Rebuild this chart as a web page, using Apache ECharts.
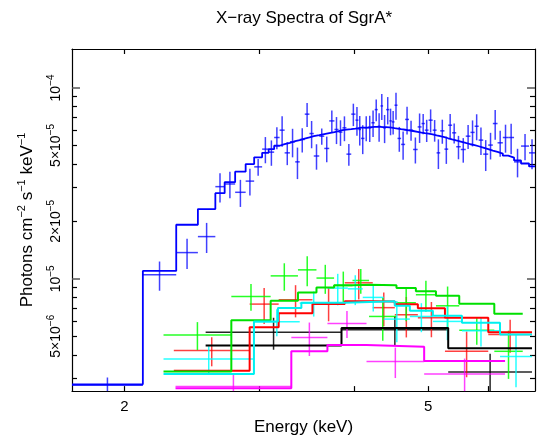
<!DOCTYPE html>
<html><head><meta charset="utf-8">
<script src="https://cdn.jsdelivr.net/npm/echarts@6/dist/echarts.min.js"></script>
<style>html,body{margin:0;padding:0;background:#fff}#c{width:540px;height:441px}</style>
</head><body><div id="c"></div>
<script>
// ---- axis ranges and ticks (energy in keV, flux in photons cm^-2 s^-1 keV^-1) ----
const FLUX_UNIT = 1e-5;
const xRange = [1.707, 6.904];
const yRange = [2.58e-6, 1.6e-4];
const xTickValues = [2, 3, 4, 5, 6];
const xLabelValues = [2, 5];
const yMajorTicks = [1e-5, 1e-4];
const yMinorTicks = [3e-6, 4e-6, 5e-6, 6e-6, 7e-6, 8e-6, 9e-6, 2e-5, 3e-5, 4e-5, 5e-5, 6e-5, 7e-5, 8e-5, 9e-5];
const yLabelValues = [5e-6, 1e-5, 2e-5, 5e-5, 1e-4];
const yLabelMantissa = ['5×10', '10', '2×10', '5×10', '10'];
const yLabelExponent = ['−6', '−5', '−5', '−5', '−4'];

// ---- blue (fluxes in units of 1e-5) ----
const blueEdges = [1.707, 2.114, 2.338, 2.496, 2.631, 2.706, 2.793, 2.883, 2.958, 3.030, 3.090, 3.142, 3.194, 3.243, 3.295, 3.348, 3.394, 3.446, 3.495, 3.541, 3.600, 3.655, 3.710, 3.769, 3.816, 3.861, 3.908, 3.965, 4.016, 4.052, 4.084, 4.126, 4.171, 4.214, 4.256, 4.295, 4.331, 4.365, 4.405, 4.448, 4.481, 4.518, 4.559, 4.609, 4.665, 4.720, 4.779, 4.845, 4.902, 4.951, 5.007, 5.070, 5.130, 5.186, 5.253, 5.313, 5.376, 5.443, 5.518, 5.602, 5.682, 5.754, 5.825, 5.905, 5.995, 6.079, 6.166, 6.265, 6.368, 6.481, 6.619, 6.781, 6.904];
const blueFlux = [0.277, 1.049, 1.372, 1.664, 3.04, 3.14, 2.84, 3.25, 3.86, 4.78, 4.61, 5.50, 6.01, 4.57, 5.22, 4.10, 5.37, 7.29, 5.77, 4.40, 5.59, 4.82, 6.72, 6.06, 5.87, 6.18, 4.50, 7.29, 6.78, 6.06, 5.44, 6.18, 6.18, 6.57, 7.70, 6.30, 8.05, 6.18, 7.70, 6.72, 6.64, 8.12, 5.44, 5.06, 6.84, 6.01, 4.76, 6.25, 6.51, 6.01, 6.78, 6.01, 4.57, 5.96, 4.78, 6.38, 5.82, 4.92, 4.76, 5.59, 5.85, 6.30, 5.33, 4.50, 5.02, 6.51, 5.16, 5.50, 5.50, 4.10, 4.96, 4.57];
const blueErr = [0.027, 0.183, 0.248, 0.299, 0.53, 0.50, 0.46, 0.52, 0.39, 0.75, 0.70, 0.72, 1.09, 0.63, 0.89, 0.77, 0.78, 1.05, 0.94, 0.67, 0.55, 0.74, 0.90, 0.98, 0.90, 0.92, 0.59, 0.98, 1.17, 1.07, 0.94, 0.93, 0.97, 1.04, 1.01, 1.07, 1.25, 1.04, 1.26, 1.07, 0.94, 1.31, 0.81, 0.85, 1.13, 0.72, 0.74, 1.10, 0.79, 0.80, 0.94, 0.78, 0.81, 0.86, 0.78, 0.93, 0.70, 0.69, 0.70, 0.80, 0.91, 0.98, 0.87, 0.83, 0.80, 1.16, 0.80, 0.92, 1.00, 0.70, 0.78, 0.82];
const blueModel = [0.28, 1.10, 1.92, 2.32, 2.81, 3.21, 3.64, 3.99, 4.33, 4.57, 4.78, 4.98, 5.08, 5.16, 5.26, 5.33, 5.43, 5.51, 5.59, 5.66, 5.73, 5.80, 5.87, 5.94, 6.01, 6.05, 6.08, 6.12, 6.15, 6.19, 6.20, 6.22, 6.24, 6.25, 6.25, 6.25, 6.24, 6.23, 6.21, 6.19, 6.16, 6.13, 6.08, 6.04, 6.00, 5.95, 5.89, 5.84, 5.80, 5.76, 5.71, 5.65, 5.60, 5.53, 5.45, 5.38, 5.31, 5.24, 5.15, 5.07, 5.02, 4.95, 4.87, 4.78, 4.69, 4.62, 4.53, 4.42, 4.32, 4.17, 4.02, 3.88];

// ---- black ----
const blackEdges = [2.555, 3.850, 5.313, 6.842];
const blackFlux = [0.525, 0.541, 0.325];
const blackErr = [0.100, 0.096, 0.080];
const blackModel = [0.447, 0.552, 0.433];

// ---- red ----
const redEdges = [2.321, 2.918, 3.185, 3.527, 3.888, 4.231, 4.522, 4.848, 5.261, 5.996, 6.842];
const redFlux = [0.421, 0.737, 0.777, 0.749, 0.953, 0.706, 0.648, 0.625, 0.417, 0.510];
const redErr = [0.073, 0.158, 0.149, 0.150, 0.173, 0.142, 0.155, 0.131, 0.112, 0.100];
const redModel = [0.330, 0.558, 0.660, 0.737, 0.762, 0.760, 0.735, 0.701, 0.625, 0.525];

// ---- green ----
const greenEdges = [2.250, 2.761, 3.109, 3.376, 3.570, 3.765, 3.980, 4.184, 4.545, 4.819, 5.120, 5.493, 6.106, 6.653];
const greenFlux = [0.508, 0.809, 1.036, 1.114, 1.009, 0.922, 0.980, 0.635, 0.749, 0.825, 0.722, 0.538, 0.417];
const greenErr = [0.085, 0.129, 0.170, 0.199, 0.175, 0.169, 0.144, 0.161, 0.150, 0.153, 0.189, 0.087, 0.118];
const greenModel = [0.327, 0.606, 0.768, 0.848, 0.900, 0.924, 0.930, 0.924, 0.894, 0.860, 0.815, 0.740, 0.656];

// ---- cyan ----
const cyanEdges = [2.250, 2.956, 3.394, 3.693, 3.924, 4.105, 4.374, 4.732, 5.073, 5.538, 6.212, 6.842];
const cyanFlux = [0.380, 0.596, 0.746, 0.894, 0.886, 0.799, 0.615, 0.635, 0.598, 0.535, 0.392];
const cyanErr = [0.063, 0.096, 0.112, 0.168, 0.158, 0.125, 0.150, 0.110, 0.121, 0.093, 0.122];
const cyanModelEdges = [2.250, 2.956, 3.178, 3.411, 3.888, 4.522, 4.732, 5.073, 5.538, 6.212, 6.842];
const cyanModel = [0.317, 0.598, 0.703, 0.749, 0.762, 0.722, 0.681, 0.640, 0.588, 0.510];

// ---- magenta ----
const magentaEdges = [2.333, 3.309, 3.690, 4.152, 4.941, 6.307];
const magentaFlux = [0.273, 0.492, 0.584, 0.369, 0.317];
const magentaErr = [0.048, 0.098, 0.095, 0.067, 0.065];
const magentaModel = [0.267, 0.417, 0.450, 0.441, 0.371];

// ---- build ----
const L = Math.log10;
const X0 = L(xRange[0]), X1 = L(xRange[1]), Y0 = L(yRange[0]), Y1 = L(yRange[1]);
const FONT = '"Liberation Sans", Arial, Helvetica, sans-serif';

function crossData(edges, flux, err) {
  return flux.map((f, i) => {
    const lo = L(edges[i]), hi = L(edges[i + 1]);
    const fl = Math.max(f - err[i], 1e-6);
    return [lo, hi, (lo + hi) / 2, L(f * FLUX_UNIT), L(fl * FLUX_UNIT), L((f + err[i]) * FLUX_UNIT)];
  });
}
function stepData(edges, model) {
  return edges.map((e, i) => [L(e), L(model[Math.min(i, model.length - 1)] * FLUX_UNIT)]);
}
function crossSeries(name, color, edges, flux, err, opacity) {
  return {
    name: name, type: 'custom', xAxisIndex: 0, yAxisIndex: 0,
    encode: { x: [0, 1, 2], y: [3, 4, 5] },
    data: crossData(edges, flux, err),
    renderItem: function (params, api) {
      const cl = v => Math.min(Math.max(v, Y0), Y1);
      const xl = Math.max(api.value(0), X0), xh = Math.min(api.value(1), X1);
      const y = api.value(3);
      const p1 = api.coord([xl, y]), p2 = api.coord([xh, y]);
      const v1 = api.coord([api.value(2), cl(api.value(4))]);
      const v2 = api.coord([api.value(2), cl(api.value(5))]);
      const style = { stroke: color, lineWidth: 1.5, opacity: opacity };
      return { type: 'group', children: [
        { type: 'line', shape: { x1: p1[0], y1: p1[1], x2: p2[0], y2: p2[1] }, style: style },
        { type: 'line', shape: { x1: v1[0], y1: v1[1], x2: v2[0], y2: v2[1] }, style: style }
      ] };
    }
  };
}
function modelSeries(name, color, edges, model, width) {
  return {
    name: name, type: 'line', xAxisIndex: 0, yAxisIndex: 0, step: 'end', symbol: 'none',
    data: stepData(edges, model), clip: true,
    lineStyle: { color: color, width: width }
  };
}

const series = [
  crossSeries('blue data', '#0000ff', blueEdges, blueFlux, blueErr, 0.75),
  modelSeries('blue model', '#0000ff', blueEdges, blueModel, 1.8),
  crossSeries('black data', '#000000', blackEdges, blackFlux, blackErr, 0.85),
  modelSeries('black model', '#000000', blackEdges, blackModel, 2),
  crossSeries('red data', '#ff0000', redEdges, redFlux, redErr, 0.75),
  modelSeries('red model', '#ff0000', redEdges, redModel, 2),
  crossSeries('green data', '#00ff00', greenEdges, greenFlux, greenErr, 0.85),
  modelSeries('green model', '#00e000', greenEdges, greenModel, 2),
  crossSeries('cyan data', '#00ffff', cyanEdges, cyanFlux, cyanErr, 0.85),
  modelSeries('cyan model', '#00f0f0', cyanModelEdges, cyanModel, 2),
  crossSeries('magenta data', '#ff00ff', magentaEdges, magentaFlux, magentaErr, 0.75),
  modelSeries('magenta model', '#ff00ff', magentaEdges, magentaModel, 2)
];

const lineSt = { color: '#000', width: 1.2 };
function yLabelFmt(v) {
  const i = yLabelValues.findIndex(t => Math.abs(L(t) - v) < 1e-6);
  return i >= 0 ? '{b|' + yLabelMantissa[i] + '}{s|' + yLabelExponent[i] + '}' : '';
}
const supRich = {
  b: { fontSize: 14, lineHeight: 17, verticalAlign: 'bottom', color: '#000', fontFamily: FONT },
  s: { fontSize: 10, lineHeight: 11, verticalAlign: 'top', color: '#000', fontFamily: FONT }
};
const nameRich = {
  b: { fontSize: 17, lineHeight: 20, verticalAlign: 'bottom', color: '#000', fontFamily: FONT },
  s: { fontSize: 11, lineHeight: 12, verticalAlign: 'top', color: '#000', fontFamily: FONT }
};
const yBase = { type: 'value', min: Y0, max: Y1, splitLine: { show: false } };
const xBase = { type: 'value', min: X0, max: X1, splitLine: { show: false } };

const option = {
  animation: false,
  backgroundColor: '#fff',
  textStyle: { fontFamily: FONT },
  title: {
    text: 'X\u2212ray Spectra of SgrA*', left: 299, top: 5, textAlign: 'center',
    textStyle: { fontFamily: FONT, fontSize: 17, fontWeight: 'normal', color: '#000' }
  },
  grid: { left: 72, right: 5, top: 49, bottom: 49 },
  xAxis: [
    Object.assign({}, xBase, {
      position: 'bottom',
      axisLine: { show: true, onZero: false, lineStyle: lineSt },
      axisTick: { show: true, inside: true, length: 5, customValues: xTickValues.map(L), lineStyle: lineSt },
      axisLabel: { show: true, customValues: xLabelValues.map(L), formatter: v => String(Math.round(Math.pow(10, v))), fontSize: 15, color: '#000', margin: 8, fontFamily: FONT },
      name: 'Energy (keV)', nameLocation: 'middle', nameGap: 26,
      nameTextStyle: { fontSize: 17, color: '#000', fontFamily: FONT }
    }),
    Object.assign({}, xBase, {
      position: 'top',
      axisLine: { show: true, onZero: false, lineStyle: lineSt },
      axisTick: { show: true, inside: true, length: 5, customValues: xTickValues.map(L), lineStyle: lineSt },
      axisLabel: { show: false }
    })
  ],
  yAxis: [
    Object.assign({}, yBase, {
      position: 'left',
      axisLine: { show: true, onZero: false, lineStyle: lineSt },
      axisTick: { show: true, inside: true, length: 8, customValues: yMajorTicks.map(L), lineStyle: { color: '#555', width: 1.5 } },
      axisLabel: { show: true, customValues: yLabelValues.map(L), formatter: yLabelFmt, rotate: 90, margin: 9, rich: supRich },
      name: '{b|Photons cm}{s|\u22122}{b| s}{s|\u22121}{b| keV}{s|\u22121}', nameLocation: 'middle', nameGap: 36,
      nameTextStyle: { rich: nameRich }
    }),
    Object.assign({}, yBase, {
      position: 'left',
      axisLine: { show: false, onZero: false },
      axisTick: { show: true, inside: true, length: 5, customValues: yMinorTicks.map(L), lineStyle: lineSt },
      axisLabel: { show: false }
    }),
    Object.assign({}, yBase, {
      position: 'right',
      axisLine: { show: true, onZero: false, lineStyle: lineSt },
      axisTick: { show: true, inside: true, length: 8, customValues: yMajorTicks.map(L), lineStyle: { color: '#555', width: 1.5 } },
      axisLabel: { show: false }
    }),
    Object.assign({}, yBase, {
      position: 'right',
      axisLine: { show: false, onZero: false },
      axisTick: { show: true, inside: true, length: 5, customValues: yMinorTicks.map(L), lineStyle: lineSt },
      axisLabel: { show: false }
    })
  ],
  series: series
};

const chart = echarts.init(document.getElementById('c'), null, { renderer: 'canvas' });
chart.setOption(option);
</script>
</body></html>
